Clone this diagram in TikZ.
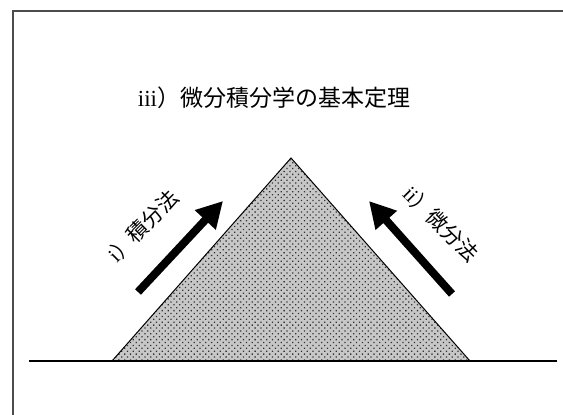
\documentclass[tikz,border=0pt]{standalone}
\usepackage{fontspec}
\setmainfont{Liberation Serif}
\newfontfamily\cjk{Noto Sans CJK JP}
\usetikzlibrary{arrows.meta,patterns.meta}
\begin{document}
\begin{tikzpicture}[x=1pt,y=-1pt,
  frameline/.style={draw=black!70,line width=1.4pt},
  ground/.style={line width=2.6pt},
  bigarrow/.style={line width=8pt,-{Triangle[length=26pt,width=27pt]}},
  titletext/.style={font=\fontsize{23}{26}\selectfont,inner sep=0pt},
  labeltext/.style={font=\fontsize{21}{24}\selectfont,inner sep=0pt}]
\useasboundingbox (0,0) rectangle (563,415);
\draw[frameline] (13,416) -- (13,11) -- (564,11);
\coordinate (A) at (291,158);
\coordinate (L) at (112,361);
\coordinate (R) at (470,361);
\fill[black!22] (L) -- (A) -- (R) -- cycle;
\fill[pattern={Dots[radius=0.9pt,distance=4.1pt,angle=45]},pattern color=black!80] (L) -- (A) -- (R) -- cycle;
\draw[line width=1pt,line join=miter] (L) -- (A) -- (R);
\coordinate (G1) at (29,361);
\coordinate (G2) at (557,361);
\draw[ground] (G1) -- (G2);
\coordinate (a1s) at (138,292);
\coordinate (a1e) at (223,201);
\draw[bigarrow] (a1s) -- (a1e);
\coordinate (a2s) at (452,294);
\coordinate (a2e) at (369,201);
\draw[bigarrow] (a2s) -- (a2e);
\node[titletext] (title) at (274,98) {iii{\cjk ）微分積分学の基本定理}};
\node[labeltext,rotate=45] (lab1) at (143,226) {i{\cjk ）積分法}};
\node[labeltext,rotate=-45] (lab2) at (441,224) {ii{\cjk ）微分法}};
\end{tikzpicture}
\end{document}
